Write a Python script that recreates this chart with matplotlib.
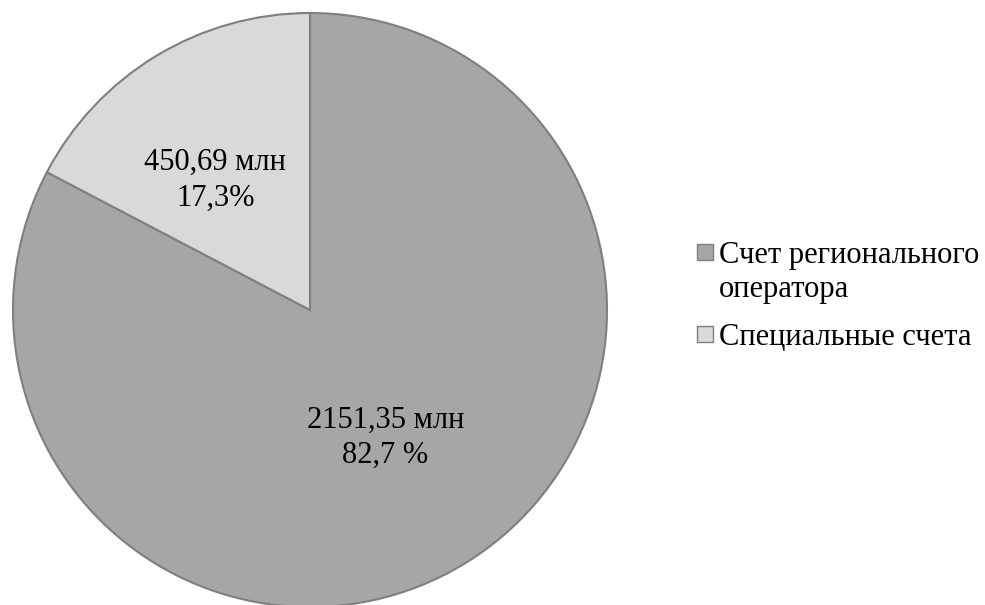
import numpy as np
import matplotlib
matplotlib.use("Agg")
import matplotlib.pyplot as plt
from matplotlib.patches import Rectangle

plt.rcParams['font.family'] = ['Liberation Serif', 'DejaVu Serif']

# data
categories = ['Счет регионального\nоператора', 'Специальные счета']
amounts = [2151.35, 450.69]          # млн
pct_labels = ['82,7 %', '17,3%']
amount_labels = ['2151,35 млн', '450,69 млн']
colors = ['#a6a6a6', '#d9d9d9']
edge = '#7f7f7f'

W, H = 985, 605
fig = plt.figure(figsize=(W / 100, H / 100), dpi=100)
R = 297
cx, cy = 310, 310
ax = fig.add_axes([(cx - R) / W, (H - cy - R) / H, 2 * R / W, 2 * R / H])

wedges, _ = ax.pie(amounts, colors=colors, startangle=90, counterclock=False,
                   radius=1.0, wedgeprops=dict(edgecolor=edge, linewidth=1.5))
ax.set_xlim(-1.0, 1.0)
ax.set_ylim(-1.0, 1.0)

# labels inside each wedge
label_r = [0.50, 0.54]
label_shift = [-0.6, 5]   # degrees from wedge middle
for w, txt_a, txt_p, r, sh in zip(wedges, amount_labels, pct_labels, label_r, label_shift):
    mid = np.deg2rad((w.theta1 + w.theta2) / 2 + sh)
    ax.text(r * np.cos(mid), r * np.sin(mid), txt_a + '\n' + txt_p,
            ha='center', va='center', fontsize=22, linespacing=1.3, color='black')

# legend drawn by hand so the marker sits on the first line of each entry
entry_y = [252, 334]   # pixel centre of each marker, from top
for w, name, yc in zip(wedges, categories, entry_y):
    fig.patches.append(Rectangle((697 / W, 1 - (yc + 8) / H), 16 / W, 16 / H,
                                 transform=fig.transFigure, facecolor=w.get_facecolor(),
                                 edgecolor=edge, linewidth=1.0))
    fig.text(719 / W, 1 - (yc - 11) / H, name, ha='left', va='top',
             fontsize=22, linespacing=1.22, color='black')

fig.savefig('out.png', dpi=100)
